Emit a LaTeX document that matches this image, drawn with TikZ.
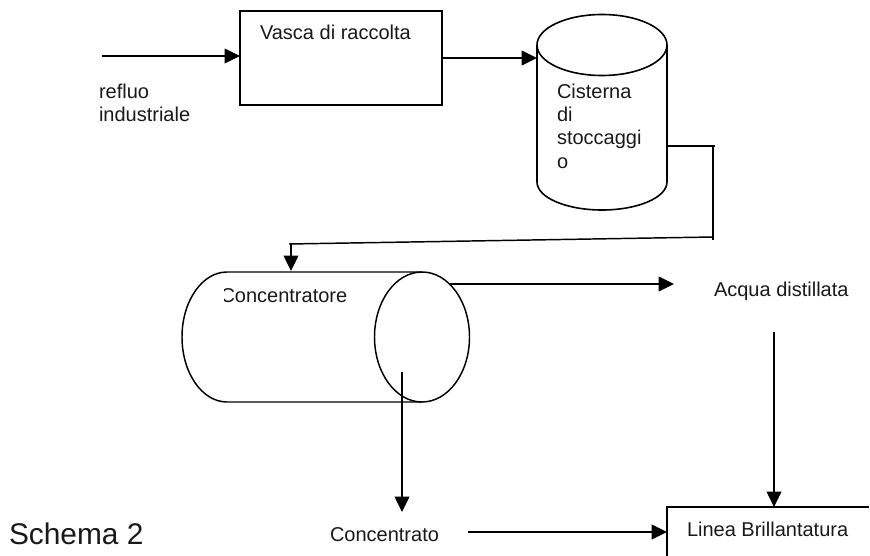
\documentclass[tikz,border=0pt]{standalone}
\usepackage{fontspec}
\setmainfont{Liberation Sans}
\usetikzlibrary{arrows.meta}
\tikzset{
  x=0.75pt,y=-0.75pt,
  shapeline/.style={draw=black,line width=1.2pt},
  thinshape/.style={draw=black,line width=1.1pt},
  flow/.style={draw=black,line width=1.1pt,-{Triangle[length=11.5pt,width=11pt]},shorten >=0pt},
  plainflow/.style={draw=black,line width=1.1pt},
  lab/.style={inner sep=0pt,outer sep=0pt,anchor=base west,font=\fontsize{15pt}{18pt}\selectfont,text=black!90},
  boxnode/.style={shapeline,rectangle,inner sep=0pt,outer sep=0pt,fill=white},
}
\begin{document}
\begin{tikzpicture}
\useasboundingbox (0,0) rectangle (870,556);
% Vasca
\node[boxnode,minimum width=151.5pt,minimum height=70.5pt] (vasca) at (341,58) {};
\node[lab] (tvasca) at (260,40) {Vasca di raccolta};
% Cisterna
\path[shapeline,fill=white] (537,45) -- (537,182) arc[start angle=180,end angle=360,x radius=65,y radius=-28] -- (667,45);
\draw[shapeline] (602,45) ellipse[x radius=65,y radius=30.5];
\coordinate (cisL) at (537,58);
\coordinate (cisR) at (667,146);
\node[lab,anchor=base west] (tc1) at (557,99) {Cisterna};
\node[lab] (tc2) at (557,122) {di};
\node[lab] (tc3) at (557,145) {stoccaggi};
\node[lab] (tc4) at (557,168) {o};
% Concentratore
\draw[thinshape] (422,272) -- (227,272) arc[start angle=90,end angle=270,x radius=45,y radius=-65] -- (422,402);
\node[lab] (tconc) at (220.5,302) {Concentratore};
\fill[white] (216,285) rectangle (223.8,306);
\draw[thinshape] (422,337) ellipse[x radius=47.5,y radius=65];
% Left inflow
\coordinate (inflow) at (102,56);
\draw[flow] (inflow) -- (vasca.west |- inflow);
\node[lab] (r1) at (99,99) {refluo};
\node[lab] (r2) at (99,122) {industriale};
% Vasca to cisterna
\coordinate (vOut) at (vasca.east |- cisL);
\draw[flow] (vOut) -- (cisL);
% Cisterna to concentratore
\coordinate (cb1) at (715,146);
\coordinate (cb2) at (713,146);
\coordinate (cb3) at (713,240);
\coordinate (cb4) at (713,237);
\coordinate (cb5) at (289,244);
\coordinate (cb6) at (291,244);
\coordinate (concTop) at (291,271);
\draw[plainflow] (cisR) -- (cb1);
\draw[plainflow] (cb2) -- (cb3);
\draw[plainflow] (cb4) -- (cb5);
\draw[flow] (cb6) -- (concTop);
% Acqua distillata
\coordinate (concOut) at (450,284);
\coordinate (acquaIn) at (674,284);
\draw[flow] (concOut) -- (acquaIn);
\node[lab] (acqua) at (714,296) {Acqua distillata};
% Linea
\coordinate (lTL) at (667,507);
\coordinate (lTR) at (869,507);
\coordinate (lBL) at (667,556);
\draw[shapeline] (lBL) -- (lTL) -- (lTR);
\node[lab] (linea) at (687,536) {Linea Brillantatura};
\coordinate (acquaOut) at (774,332);
\draw[flow] (acquaOut) -- (acquaOut |- lTL);
% Concentrato
\coordinate (concDown) at (402,372);
\coordinate (concEnd) at (402,512);
\draw[flow] (concDown) -- (concEnd);
\node[lab] (cto) at (330,541) {Concentrato};
\coordinate (ctoOut) at (468,532);
\draw[flow] (ctoOut) -- (ctoOut -| lTL);
% Schema 2
\node[lab,font=\fontsize{22.4pt}{27pt}\selectfont] (schema) at (9,544) {Schema 2};
\end{tikzpicture}
\end{document}
